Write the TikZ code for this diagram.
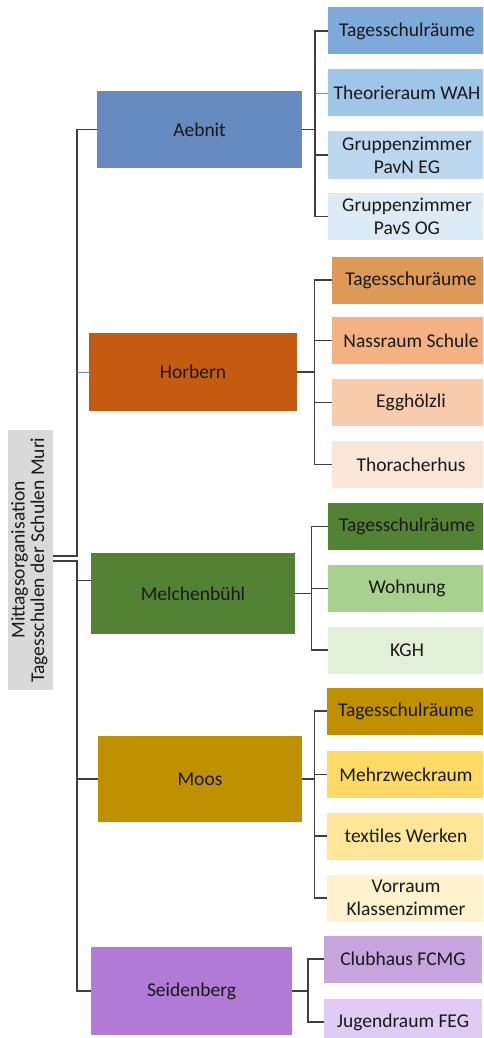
\documentclass[tikz,border=0pt]{standalone}
\usepackage{fontspec}
\setmainfont{Carlito}
\usetikzlibrary{calc}
\definecolor{muriRoot}{HTML}{D9D9D9}
\definecolor{muriLine}{HTML}{3F3F3F}
\definecolor{aebnitHub}{HTML}{6689BF}
\definecolor{aebnitA}{HTML}{7EA9D9}
\definecolor{aebnitB}{HTML}{9FC5E8}
\definecolor{aebnitC}{HTML}{BDD7EE}
\definecolor{aebnitD}{HTML}{DDEBF7}
\definecolor{horbernHub}{HTML}{C55A11}
\definecolor{horbernA}{HTML}{DE9858}
\definecolor{horbernB}{HTML}{F4B183}
\definecolor{horbernC}{HTML}{F8CBAD}
\definecolor{horbernD}{HTML}{FBE5D6}
\definecolor{melchenHub}{HTML}{548235}
\definecolor{melchenA}{HTML}{548235}
\definecolor{melchenB}{HTML}{A9D18E}
\definecolor{melchenC}{HTML}{E2F0D9}
\definecolor{moosHub}{HTML}{BF9000}
\definecolor{moosA}{HTML}{BF9000}
\definecolor{moosB}{HTML}{FFD966}
\definecolor{moosC}{HTML}{FFE699}
\definecolor{moosD}{HTML}{FFF2CC}
\definecolor{seidenHub}{HTML}{B07AD6}
\definecolor{seidenA}{HTML}{C8A4DE}
\definecolor{seidenB}{HTML}{E0CBF5}
\begin{document}
\begin{tikzpicture}[x=1pt,y=-1pt,
  link/.style={muriLine,line width=1.7pt},
  thinlink/.style={aebnitHub,line width=0.8pt},
  rootbox/.style={rectangle,fill=muriRoot,inner sep=0pt,minimum width=45pt,minimum height=260pt,font=\fontsize{19.5}{19.5}\selectfont,text=black!90},
  hub/.style={rectangle,inner sep=2pt,minimum width=204pt,font=\fontsize{19.5}{23}\selectfont,text=black!90},
  room/.style={rectangle,inner sep=2pt,minimum width=158pt,minimum height=47pt,align=center,font=\fontsize{19.5}{23}\selectfont,text=black!90}]
\clip (0,0) rectangle (483,1038);
\coordinate (trunk) at (77,560);
% root and the five schools
\node[rootbox] (root) at (30.5,560) {\rotatebox{90}{\begin{tabular}{@{}c@{}}Mittagsorganisation\\Tagesschulen der Schulen Muri\end{tabular}}};
\node[hub,fill=aebnitHub,minimum width=205pt,minimum height=77pt] (aebnit) at (199.5,129.5) {Aebnit};
\node[hub,fill=horbernHub,minimum width=208pt,minimum height=78pt] (horbern) at (193,372) {Horbern};
\node[hub,fill=melchenHub,minimum height=81pt] (melchen) at (193,593.5) {Melchenbühl};
\node[hub,fill=moosHub,minimum height=86pt] (moos) at (200,779) {Moos};
\node[hub,fill=seidenHub,minimum width=201pt,minimum height=88pt] (seiden) at (191.5,991) {Seidenberg};
% rooms
\node[room,fill=aebnitA] (a1) at (407,31) {Tagesschulräume};
\node[room,fill=aebnitB] (a2) at (407,93) {Theorieraum WAH};
\node[room,fill=aebnitC] (a3) at (407,155) {Gruppenzimmer\\PavN EG};
\node[room,fill=aebnitD] (a4) at (407,216.5) {Gruppenzimmer\\PavS OG};
\node[room,fill=horbernA] (h1) at (411,280) {Tagesschuräume};
\node[room,fill=horbernB] (h2) at (411,340.5) {Nassraum Schule};
\node[room,fill=horbernC] (h3) at (411,402.5) {Egghölzli};
\node[room,fill=horbernD] (h4) at (411,464.5) {Thoracherhus};
\node[room,fill=melchenA] (m1) at (407,526.5) {Tagesschulräume};
\node[room,fill=melchenB] (m2) at (407,588.5) {Wohnung};
\node[room,fill=melchenC] (m3) at (407,650) {KGH};
\node[room,fill=moosA] (o1) at (406,711) {Tagesschulräume};
\node[room,fill=moosB] (o2) at (406,774.5) {Mehrzweckraum};
\node[room,fill=moosC] (o3) at (406,836) {textiles Werken};
\node[room,fill=moosD] (o4) at (406,898) {Vorraum\\Klassenzimmer};
\node[room,fill=seidenA] (s1) at (403,959) {Clubhaus FCMG};
\node[room,fill=seidenB] (s2) at (403,1022) {Jugendraum FEG};
% trunk
\coordinate (melchenIn) at ([yshift=13pt]melchen.west);
\draw[link] ([yshift=4pt]root.east) -| (trunk |- aebnit.west) -- (aebnit.west);
\draw[link] ([yshift=-1pt]root.east) -| (trunk |- seiden.west) -- (seiden.west);
\draw[thinlink] (trunk |- horbern.west) -- (horbern.west);
\draw[link] (trunk |- melchenIn) -- (melchenIn);
\draw[link] (trunk |- moos.west) -- (moos.west);
% forks
\coordinate (aebnitFork) at ($(aebnit.east)!.5!(a1.west)$);
\coordinate (horbernFork) at ($(horbern.east)!.5!(h1.west)$);
\coordinate (melchenFork) at ($(melchen.east)!.5!(m1.west)$);
\coordinate (moosFork) at ($(moos.east)!.5!(o1.west)$);
\coordinate (seidenFork) at ($(seiden.east)!.5!(s1.west)$);
\draw[link] (aebnit.east) -- (aebnitFork |- aebnit.east);
\foreach \r in {a1,a3,a4} \draw[link] (aebnitFork |- aebnit.east) |- (\r.west);
\draw[thinlink] (aebnitFork |- a2.west) -- (a2.west);
\draw[link] (horbern.east) -- (horbernFork |- horbern.east);
\foreach \r in {h1,h2,h3,h4} \draw[link] (horbernFork |- horbern.east) |- (\r.west);
\draw[link] (melchen.east) -- (melchenFork |- melchen.east);
\foreach \r in {m1,m2,m3} \draw[link] (melchenFork |- melchen.east) |- (\r.west);
\draw[link] (moos.east) -- (moosFork |- moos.east);
\foreach \r in {o1,o2,o3,o4} \draw[link] (moosFork |- moos.east) |- (\r.west);
\draw[link] (seiden.east) -- (seidenFork |- seiden.east);
\foreach \r in {s1,s2} \draw[link] (seidenFork |- seiden.east) |- (\r.west);
\end{tikzpicture}
\end{document}
